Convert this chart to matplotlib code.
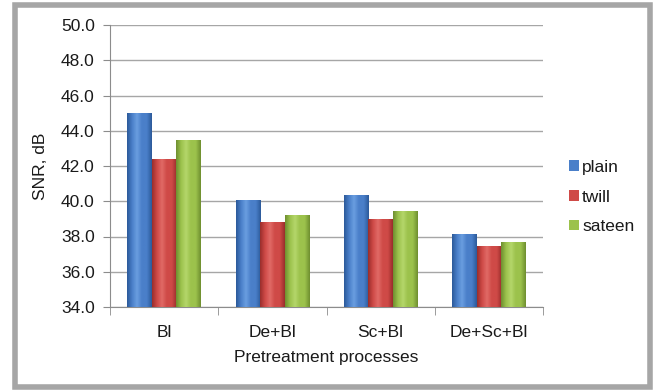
import matplotlib
matplotlib.use("Agg")
import matplotlib.pyplot as plt
import numpy as np
from matplotlib.patches import Rectangle
from matplotlib.colors import LinearSegmentedColormap

plt.rcParams['font.family'] = ['Liberation Sans', 'DejaVu Sans']

categories = ["Bl", "De+Bl", "Sc+Bl", "De+Sc+Bl"]
plain = [45.0, 40.05, 40.35, 38.15]
twill = [42.4, 38.85, 38.98, 37.48]
sateen = [43.5, 39.2, 39.45, 37.7]
series_names = ["plain", "twill", "sateen"]
y_ticks = [34.0, 36.0, 38.0, 40.0, 42.0, 44.0, 46.0, 48.0, 50.0]

colors = ["#4a7fc9", "#cf4a47", "#9cc24c"]
dark = ["#2c5a9a", "#9a2e2c", "#6f8f30"]
light = ["#6a9ee0", "#e06a66", "#b4d66a"]

FS = 12.5
TXT = "#1a1a1a"

fig = plt.figure(figsize=(6.54, 3.9), dpi=100)
# outer chart frame
frame = Rectangle((15 / 654, 3 / 390), 635 / 654, 382 / 390, transform=fig.transFigure,
                  fill=False, edgecolor="#a6a6a6", linewidth=4)
fig.add_artist(frame)

ax = fig.add_axes([110 / 654, 1 - 307 / 390, 433 / 654, 282 / 390])
x = np.arange(len(categories))
w = 0.226
base = y_ticks[0]
for i, (vals, name) in enumerate(zip([plain, twill, sateen], series_names)):
    offs = (i - 1) * w
    bars = ax.bar(x + offs, np.array(vals) - base, bottom=base, width=w,
                  color=colors[i], edgecolor="none", label=name, zorder=3)
    cmap = LinearSegmentedColormap.from_list(
        name, [dark[i], colors[i], light[i], colors[i], colors[i], dark[i]])
    grad = np.linspace(0, 1, 64).reshape(1, -1)
    for b in bars:
        x0, y0 = b.get_x(), b.get_y()
        im = ax.imshow(grad, cmap=cmap, aspect="auto",
                       extent=[x0, x0 + b.get_width(), y0, y0 + b.get_height()],
                       zorder=3.5, interpolation="bilinear")
        im.set_clip_path(b)

ax.set_xlim(-0.5, len(categories) - 0.5)
ax.set_ylim(y_ticks[0], y_ticks[-1])
ax.set_yticks(y_ticks)
ax.set_yticklabels([f"{t:.1f}" for t in y_ticks], fontsize=FS, color=TXT)
ax.set_xticks(x)
ax.set_xticklabels(categories, fontsize=FS, color=TXT)
ax.tick_params(axis="x", length=0, pad=13)
ax.tick_params(axis="y", length=5, color="#8c8c8c", pad=6)
ax.set_xticks(np.arange(-0.5, len(categories)), minor=True)
ax.tick_params(axis="x", which="minor", length=6, color="#8c8c8c")
ax.yaxis.grid(True, color="#a6a6a6", linewidth=1.0, zorder=0)
ax.set_axisbelow(True)
for s in ["top", "right"]:
    ax.spines[s].set_visible(False)
for s in ["left", "bottom"]:
    ax.spines[s].set_color("#8c8c8c")
ax.set_ylabel("SNR, dB", fontsize=FS, color=TXT, labelpad=9)
ax.set_xlabel("Pretreatment processes", fontsize=FS, color=TXT, labelpad=7)

leg = ax.legend(loc="center left", bbox_to_anchor=(1.04, 0.39), frameon=False,
                fontsize=FS, handlelength=0.55, handleheight=0.55, handletextpad=0.2,
                labelspacing=0.85, borderpad=0)
for t in leg.get_texts():
    t.set_color(TXT)

fig.savefig("out.png", dpi=100)
